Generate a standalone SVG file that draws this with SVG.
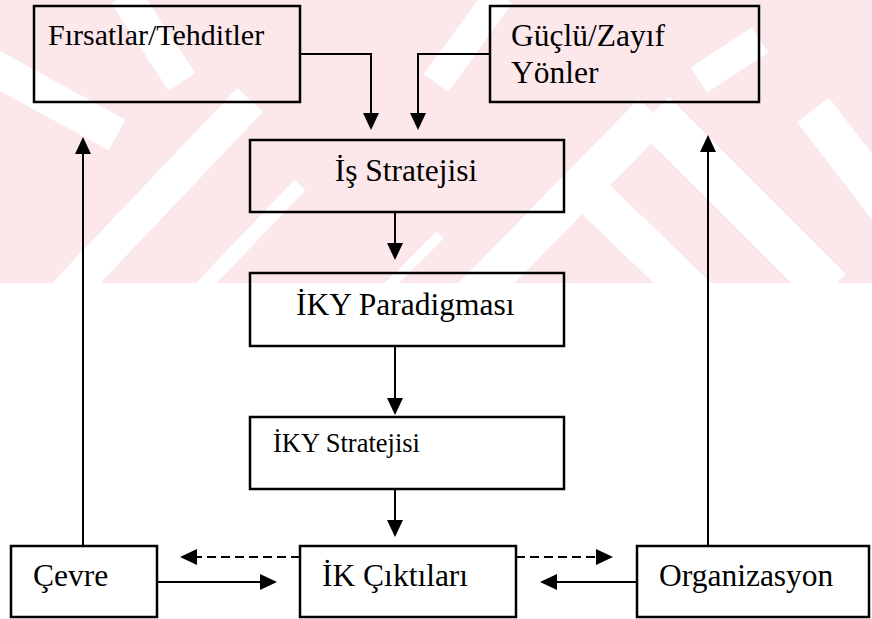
<svg xmlns="http://www.w3.org/2000/svg" width="872" height="619" viewBox="0 0 872 619">
<style>
.box{fill:none;stroke:#000;stroke-width:2.5}
.t{font-family:"Liberation Serif","Times New Roman",serif;font-size:31.5px;fill:#000}
.c{fill:none;stroke:#000;stroke-width:2}
.d{stroke-dasharray:9 5}
.wm line{stroke:#fff;fill:none}
</style>
<defs>
<clipPath id="band"><rect x="0" y="0" width="872" height="283"/></clipPath>
<marker id="ah" markerUnits="userSpaceOnUse" markerWidth="17" markerHeight="16" refX="0" refY="8" orient="auto" viewBox="0 0 17 16">
<path d="M0,0 L17,8 L0,16 z" fill="#000"/>
</marker>
</defs>
<rect width="872" height="619" fill="#fff"/>
<g class="wm" clip-path="url(#band)">
<rect x="0" y="0" width="872" height="283" fill="#fce8eb"/>
<line x1="125" y1="-5" x2="182" y2="82" stroke-width="32"/>
<line x1="-20" y1="60" x2="117" y2="135" stroke-width="35"/>
<line x1="60" y1="300" x2="250" y2="100" stroke-width="35"/>
<line x1="190" y1="300" x2="300" y2="185" stroke-width="15"/>
<line x1="375" y1="300" x2="440" y2="235" stroke-width="10"/>
<line x1="653" y1="113" x2="470" y2="300" stroke-width="40"/>
<line x1="583" y1="187" x2="700" y2="300" stroke-width="40"/>
<line x1="653" y1="113" x2="830" y2="290" stroke-width="45"/>
<line x1="436" y1="83" x2="500" y2="-5" stroke-width="30"/>
<line x1="699" y1="80" x2="760" y2="40" stroke-width="30"/>
<line x1="813" y1="110" x2="890" y2="210" stroke-width="40"/>
</g>
<g id="connectors">
<path class="c" d="M300,54 H371 V113" marker-end="url(#ah)"/>
<path class="c" d="M490,54 H418 V113" marker-end="url(#ah)"/>
<path class="c" d="M395,212 V243" marker-end="url(#ah)"/>
<path class="c" d="M395,346 V398" marker-end="url(#ah)"/>
<path class="c" d="M395,489 V520" marker-end="url(#ah)"/>
<path class="c" d="M83,546 V154" marker-end="url(#ah)"/>
<path class="c" d="M708,546 V152" marker-end="url(#ah)"/>
<path class="c" d="M157,582 H260" marker-end="url(#ah)"/>
<path class="c" d="M637,582 H557" marker-end="url(#ah)"/>
<path class="c d" d="M300,557 H197" marker-end="url(#ah)"/>
<path class="c d" d="M516,557 H596" marker-end="url(#ah)"/>
</g>
<g id="firsatlar"><rect class="box" x="34" y="6" width="266" height="96"/><text class="t" x="48" y="45" style="font-size:30px">Fırsatlar/Tehditler</text></g>
<g id="guclu"><rect class="box" x="490" y="6" width="269" height="96"/><text class="t" x="511" y="46">Güçlü/Zayıf</text><text class="t" x="511" y="83">Yönler</text></g>
<g id="is-stratejisi"><rect class="box" x="250" y="140" width="314" height="72"/><text class="t" x="406" y="181" text-anchor="middle">İş Stratejisi</text></g>
<g id="iky-paradigmasi"><rect class="box" x="250" y="273" width="314" height="73"/><text class="t" x="296" y="315">İKY Paradigması</text></g>
<g id="iky-stratejisi"><rect class="box" x="250" y="417" width="314" height="72"/><text class="t" x="273" y="452" style="font-size:26.5px">İKY Stratejisi</text></g>
<g id="cevre"><rect class="box" x="11" y="546" width="146" height="71"/><text class="t" x="33" y="586">Çevre</text></g>
<g id="ik-ciktilari"><rect class="box" x="300" y="546" width="216" height="71"/><text class="t" x="322" y="586">İK Çıktıları</text></g>
<g id="organizasyon"><rect class="box" x="637" y="546" width="232" height="71"/><text class="t" x="659" y="586">Organizasyon</text></g>
</svg>
